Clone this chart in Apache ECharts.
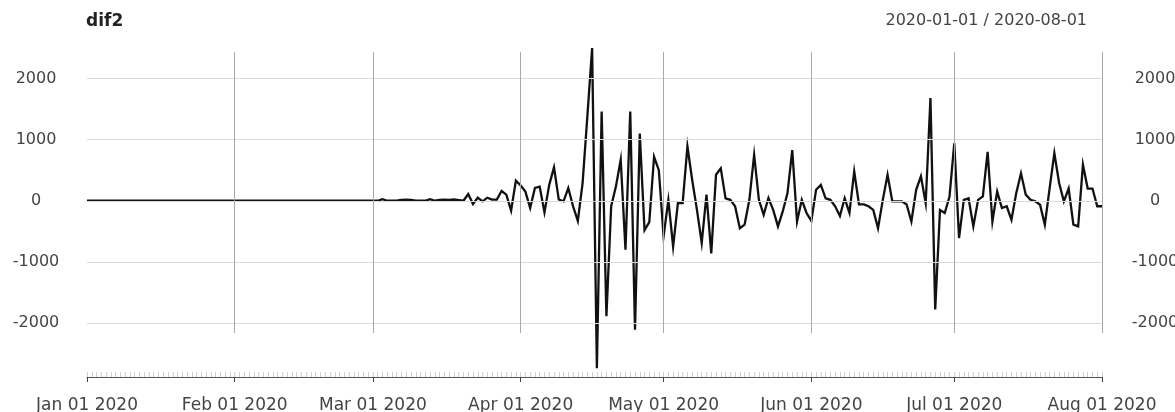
<!DOCTYPE html>
<html>
<head>
<meta charset="utf-8">
<script src="https://cdn.jsdelivr.net/npm/echarts@6/dist/echarts.min.js"></script>
<style>
  html, body { margin: 0; padding: 0; background: #ffffff; }
  #chart { width: 1175px; height: 412px; }
</style>
</head>
<body>
<div id="chart"></div>
<script>
// Series name and date range shown in the header
const seriesName = 'dif2';
const rangeText = '2020-01-01 / 2020-08-01';
const startDate = '2020-01-01';

// Daily values of dif2, one array per month
const jan = [0,0,0,0,0,0,0,0,0,0,0,0,0,0,0,0,0,0,0,0,0,0,0,0,0,0,0,0,0,0,0];
const feb = [0,0,0,0,0,0,0,0,0,0,0,0,0,0,0,0,0,0,0,0,0,0,0,0,0,0,0,0,0];
const mar = [0,0,25,0,0,0,15,20,15,0,0,0,25,0,15,20,15,20,10,0,110,-55,50,-10,50,20,20,160,100,-160,330];
const apr = [250,150,-120,210,230,-190,260,545,20,-10,207,-90,-330,290,1380,2500,-2740,1460,-1890,-90,235,670,-800,1460,-2110,1100,-480,-350,720,500];
const may = [-580,10,-750,-40,-40,890,340,-150,-690,100,-860,425,530,40,15,-90,-450,-390,15,750,15,-230,45,-150,-420,-175,125,830,-340,15,-200];
const jun = [-330,180,260,40,15,-90,-250,40,-200,480,-60,-60,-90,-150,-450,15,425,-10,-10,-10,-60,-340,180,400,-40,1680,-1780,-150,-200,70];
const jul = [940,-610,15,40,-420,15,70,800,-340,150,-120,-90,-310,125,450,100,15,-10,-65,-390,200,780,290,-10,200,-390,-420,590,200,200,-90];
const aug = [-90];

// Axis ticks
const monthDates = ['2020-01-01','2020-02-01','2020-03-01','2020-04-01','2020-05-01','2020-06-01','2020-07-01','2020-08-01'];
const monthLabels = ['Jan 01 2020','Feb 01 2020','Mar 01 2020','Apr 01 2020','May 01 2020','Jun 01 2020','Jul 01 2020','Aug 01 2020'];
const yTicks = [-2000, -1000, 0, 1000, 2000];

const DAY = 86400000;
const dayOf = s => Math.round((Date.parse(s + 'T00:00:00Z') - Date.parse(startDate + 'T00:00:00Z')) / DAY);
const values = [].concat(jan, feb, mar, apr, may, jun, jul, aug);
const points = values.map((v, i) => [i, v]);
const lastDay = values.length - 1;
const monthDays = monthDates.map(dayOf);
const gridDays = monthDays.slice(1);

const FONT = 'DejaVu Sans';
const yMin = -2164, yMax = 2434;

const chart = echarts.init(document.getElementById('chart'), null, { renderer: 'canvas' });
chart.setOption({
  animation: false,
  backgroundColor: '#ffffff',
  title: [
    { text: seriesName, left: 86, top: 13, padding: 0,
      textStyle: { fontFamily: FONT, fontSize: 17, fontWeight: 'bold', color: '#222' } },
    { text: rangeText, right: 88, top: 13, padding: 0,
      textStyle: { fontFamily: FONT, fontSize: 16, fontWeight: 'normal', color: '#444' } }
  ],
  grid: { left: 87, right: 73, top: 52, bottom: 79, containLabel: false, outerBoundsMode: 'none' },
  xAxis: [
    {
      type: 'value', min: 0, max: lastDay, position: 'bottom', offset: 44,
      axisLine: { show: true, onZero: false, lineStyle: { color: '#555', width: 1 } },
      axisTick: { show: true, customValues: monthDays, length: 5, lineStyle: { color: '#444', width: 1 } },
      axisLabel: {
        show: true, customValues: monthDays, margin: 20,
        formatter: v => monthLabels[monthDays.indexOf(Math.round(v))] || '',
        fontFamily: FONT, fontSize: 17, color: '#444'
      },
      splitLine: { show: false }
    },
    {
      type: 'value', min: 0, max: lastDay, interval: 1, position: 'bottom', offset: 44,
      axisLine: { show: false, onZero: false },
      axisTick: { show: true, inside: true, length: 5, lineStyle: { color: '#cfcfcf', width: 1 } },
      axisLabel: { show: false },
      splitLine: { show: false }
    }
  ],
  yAxis: [
    {
      type: 'value', min: yMin, max: yMax, position: 'left',
      axisLine: { show: false }, axisTick: { show: false }, splitLine: { show: false },
      axisLabel: { customValues: yTicks, align: 'center', margin: 51, formatter: v => String(v),
        fontFamily: FONT, fontSize: 16, color: '#444' }
    },
    {
      type: 'value', min: yMin, max: yMax, position: 'right',
      axisLine: { show: false }, axisTick: { show: false }, splitLine: { show: false },
      axisLabel: { customValues: yTicks, align: 'center', margin: 53, formatter: v => String(v),
        fontFamily: FONT, fontSize: 16, color: '#444' }
    }
  ],
  series: [
    {
      // grid lines: horizontal at the y ticks, vertical at each month start
      type: 'line', data: points, xAxisIndex: 0, yAxisIndex: 0, z: 1,
      symbol: 'none', silent: true, lineStyle: { opacity: 0 },
      markLine: {
        silent: true, symbol: ['none', 'none'], label: { show: false },
        animation: false,
        data: yTicks.map(v => ({ yAxis: v, lineStyle: { color: '#dadada', width: 1, type: 'solid' } }))
          .concat(gridDays.map(d => ({ xAxis: d, lineStyle: { color: '#a8a8a8', width: 1, type: 'solid' } })))
      }
    },
    {
      name: seriesName, type: 'line', data: points, xAxisIndex: 0, yAxisIndex: 0, z: 3,
      symbol: 'none', clip: false,
      lineStyle: { color: '#111', width: 2.3, join: 'miter' }
    }
  ]
});
</script>
</body>
</html>
